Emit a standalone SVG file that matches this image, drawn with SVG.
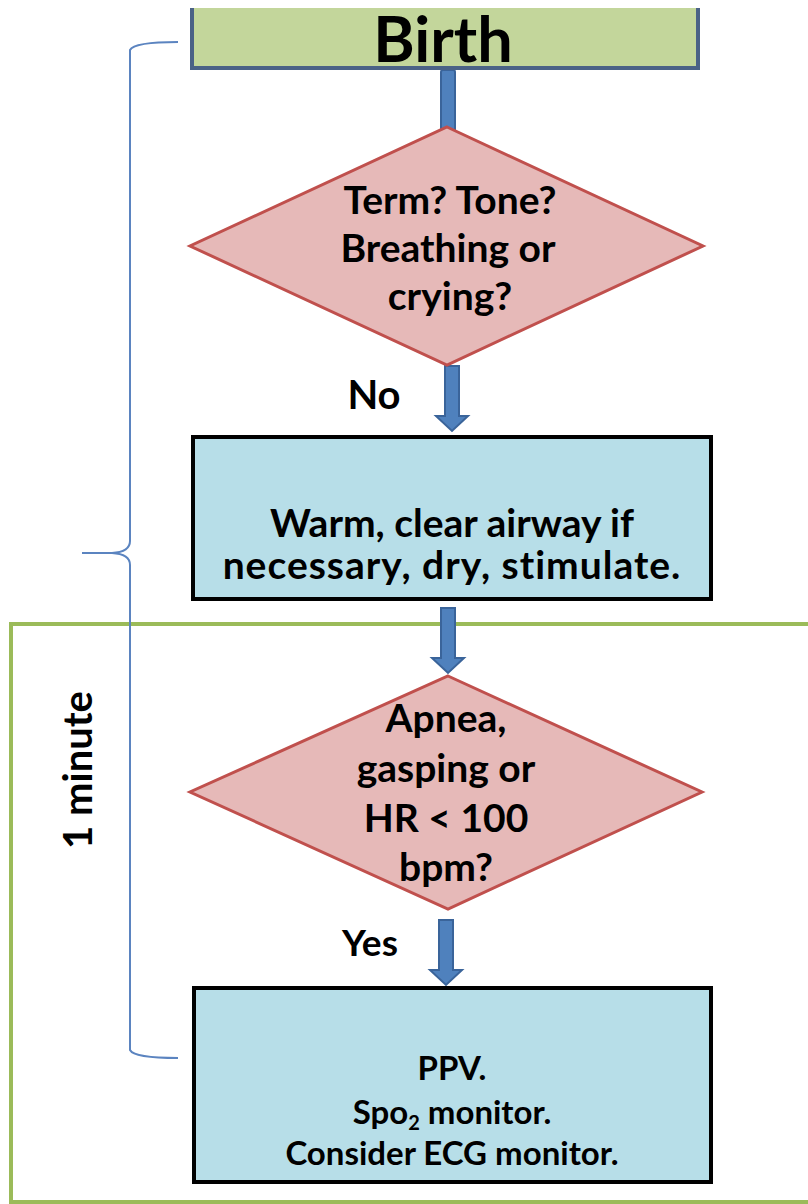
<svg xmlns="http://www.w3.org/2000/svg" width="808" height="1204" viewBox="0 0 808 1204">
<style>
.t{font-family:Lato,"Open Sans","Liberation Sans",sans-serif;font-weight:bold;fill:#000;text-anchor:middle;font-variant-ligatures:none}
.box{fill:#b7dee8;stroke:#000;stroke-width:4}
.dia{fill:#e6b9b8;stroke:#c0504d;stroke-width:3;stroke-linejoin:miter}
.arr{fill:#4f81bd;stroke:#3a649a;stroke-width:2;stroke-linejoin:miter}
</style>
<defs>
<path id="arrow" d="M-7,0 L7,0 L7,50 L16,50 L0,65 L-16,50 L-7,50 Z"/>
</defs>
<rect width="808" height="1204" fill="#fff"/>
<g id="frame">
<rect x="11" y="624" width="810" height="578" fill="none" stroke="#9bbb59" stroke-width="4"/>
</g>
<g id="bracket">
<path d="M178,42 Q134,42 130,50 L130,541 Q130,552 112,553 L82,553 L112,553 Q130,554 130,565 L130,1050 Q134,1058 178,1058" fill="none" stroke="#5b84c0" stroke-width="2"/>
</g>
<g id="connectors">
<rect class="arr" x="441" y="70" width="14" height="62" rx="2"/>
<use href="#arrow" class="arr" x="452" y="366"/>
<use href="#arrow" class="arr" x="448" y="608"/>
<use href="#arrow" class="arr" x="446" y="920"/>
</g>
<g id="birth">
<rect x="192" y="8" width="506" height="60" fill="#c3d69b"/>
<path d="M192,8 L192,68 L698,68 L698,8" fill="none" stroke="#4a6286" stroke-width="4"/>
<text class="t" x="443" y="62" font-size="63">Birth</text>
</g>
<g id="decision1">
<polygon class="dia" points="447,127 703,246 447,365 190,246"/>
<text class="t" font-size="39"><tspan x="450" y="214">Term? Tone?</tspan><tspan x="448" y="262">Breathing or</tspan><tspan x="450" y="310">crying?</tspan></text>
</g>
<text id="label-no" class="t" x="374" y="409" font-size="40">No</text>
<g id="warm">
<rect class="box" x="193" y="437" width="518" height="162"/>
<text class="t" font-size="39"><tspan x="452" y="537">Warm, clear airway if</tspan><tspan x="452" y="579" letter-spacing="1">necessary, dry, stimulate.</tspan></text>
</g>
<g id="decision2">
<polygon class="dia" points="448,676 702,792 448,909 190,792"/>
<text class="t" font-size="39"><tspan x="446" y="732">Apnea,</tspan><tspan x="446" y="782">gasping or</tspan><tspan x="446" y="832">HR &lt; 100</tspan><tspan x="446" y="881">bpm?</tspan></text>
</g>
<text id="label-yes" class="t" x="370" y="956" font-size="37">Yes</text>
<g id="ppv">
<rect class="box" x="194" y="988" width="517" height="194"/>
<text class="t" font-size="33" x="452" y="1080">PPV.</text>
<text class="t" font-size="33" x="452" y="1124">Spo<tspan font-size="20" dy="6">2</tspan><tspan dy="-6"> monitor.</tspan></text>
<text class="t" font-size="33" x="452" y="1165">Consider ECG monitor.</text>
</g>
<text id="label-minute" class="t" font-size="40" transform="translate(92,770) rotate(-90)">1 minute</text>
</svg>
